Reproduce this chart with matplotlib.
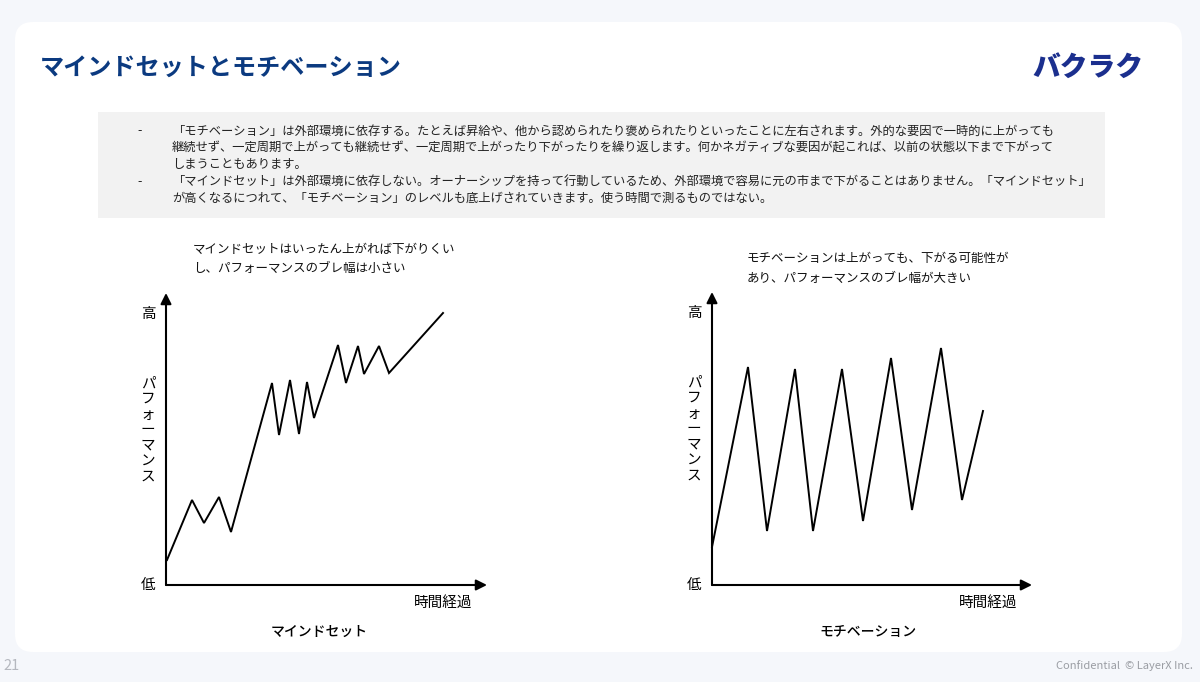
import matplotlib
matplotlib.use("Agg")
import matplotlib.pyplot as plt
from matplotlib.patches import FancyBboxPatch, Rectangle

plt.rcParams['font.family'] = ['Noto Sans CJK JP', 'DejaVu Sans']

# ---------------- data ----------------
title = "マインドセットとモチベーション"
logo = "バクラク"
bullet_lines = [
    ["「モチベーション」は外部環境に依存する。たとえば昇給や、他から認められたり褒められたりといったことに左右されます。外的な要因で一時的に上がっても",
     "継続せず、一定周期で上がっても継続せず、一定周期で上がったり下がったりを繰り返します。何かネガティブな要因が起これば、以前の状態以下まで下がって",
     "しまうこともあります。"],
    ["「マインドセット」は外部環境に依存しない。オーナーシップを持って行動しているため、外部環境で容易に元の市まで下がることはありません。「マインドセット」",
     "が高くなるにつれて、「モチベーション」のレベルも底上げされていきます。使う時間で測るものではない。"],
]

mind_time = [1, 26, 38, 53, 65, 106, 113, 124, 133, 141, 148, 172, 180, 192, 198, 213, 223, 277]
mind_perf = [25, 85, 62, 88, 53, 202, 150, 205, 151, 203, 167, 240, 202, 239, 211, 239, 212, 272]

moti_time = [0, 36, 55, 83, 101, 130, 151, 179, 200, 229, 250, 271]
moti_perf = [38, 218, 54, 216, 54, 216, 64, 227, 75, 237, 85, 174]

mind_note = ["マインドセットはいったん上がれば下がりくい", "し、パフォーマンスのブレ幅は小さい"]
moti_note = ["モチベーションは上がっても、下がる可能性が", "あり、パフォーマンスのブレ幅が大きい"]
y_high, y_low, y_label = "高", "低", "パフォーマンス"
x_label = "時間経過"
mind_name, moti_name = "マインドセット", "モチベーション"
page_no = "21"
footer = "Confidential  © LayerX Inc."

# ---------------- figure ----------------
W, H = 1200, 682
fig = plt.figure(figsize=(W / 100, H / 100), dpi=100)
fig.patch.set_facecolor('#f5f7fb')

bg = fig.add_axes([0, 0, 1, 1])
bg.set_xlim(0, W)
bg.set_ylim(H, 0)
bg.axis('off')

bg.add_patch(FancyBboxPatch((15, 22), 1167, 630,
                            boxstyle='round,pad=0,rounding_size=18',
                            fc='white', ec='none'))
bg.add_patch(Rectangle((98, 112), 1007, 106, fc='#f2f2f2', ec='none'))

bg.text(40, 68, title, fontsize=17.4, fontweight='bold', color='#0b3a80',
        ha='left', va='center')
bg.text(1143, 68, logo, fontsize=20, fontweight='black', color='#1b2f8e',
        ha='right', va='center', style='italic')

y = 131
for lines in bullet_lines:
    bg.text(137, y, "-", fontsize=9, color='#222222', ha='left', va='center')
    for ln in lines:
        bg.text(172, y, ln, fontsize=8.85, color='#222222', ha='left', va='center')
        y += 16.8

bg.text(3, 666, page_no, fontsize=10.5, color='#b5b8bf', ha='left', va='center')
bg.text(1193, 666, footer, fontsize=8, color='#9a9da3', ha='right', va='center')


def chart(x0, y0, w, h, xs, ys, note, note_x, note_y, name, name_x):
    ax = fig.add_axes([x0 / W, (H - y0) / H, w / W, h / H])
    ax.set_xlim(0, w)
    ax.set_ylim(0, h)
    ax.axis('off')
    ax.patch.set_alpha(0)
    arrow = dict(arrowstyle='-|>', lw=1.5, color='black',
                 mutation_scale=16, shrinkA=0, shrinkB=0)
    ax.annotate('', xy=(1, 0), xytext=(0, 0), xycoords='axes fraction',
                arrowprops=arrow, annotation_clip=False)
    ax.annotate('', xy=(0, 1), xytext=(0, 0), xycoords='axes fraction',
                arrowprops=arrow, annotation_clip=False)
    ax.plot(xs, ys, color='black', lw=1.4, solid_joinstyle='miter',
            clip_on=False)
    ax.text(-18, h - 21, y_high, fontsize=10.5, ha='center', va='center', clip_on=False)
    ax.text(-18, 0, y_low, fontsize=10.5, ha='center', va='center', clip_on=False)
    ax.text(-18, h - 137, "\n".join(y_label), fontsize=10.5, ha='center',
            va='center', linespacing=1.14, clip_on=False)
    ax.text(w - 44, -18, x_label, fontsize=10.5, ha='center', va='center', clip_on=False)
    for i, ln in enumerate(note):
        ax.text(note_x, note_y - 19 * i, ln, fontsize=9, ha='left', va='center',
                color='#111111', clip_on=False)
    ax.text(name_x, -47, name, fontsize=10, fontweight='medium',
            ha='center', va='center', clip_on=False)
    return ax


chart(166, 585, 321, 292, mind_time, mind_perf, mind_note, 27, 336, mind_name, 153)
chart(712, 585, 320, 293, moti_time, moti_perf, moti_note, 35, 326, moti_name, 156)

fig.savefig('out.png', dpi=100, facecolor=fig.get_facecolor())
